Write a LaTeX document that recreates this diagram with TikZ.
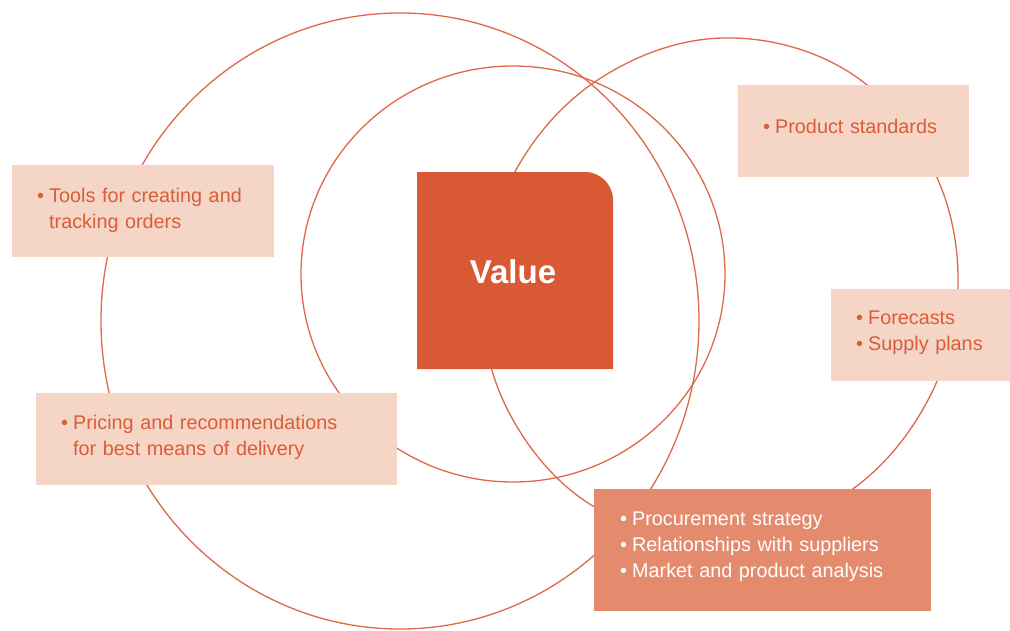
\documentclass[tikz,border=0pt]{standalone}
\usepackage{fontspec}
\setmainfont{Liberation Sans}
\definecolor{vorange}{RGB}{216,89,52}
\definecolor{lineor}{RGB}{224,104,74}
\definecolor{peach}{RGB}{245,214,198}
\definecolor{salmon}{RGB}{228,139,110}
\definecolor{txtor}{RGB}{219,92,56}
\newcommand{\bl}{\makebox[12pt][l]{\textbullet}}
\newcommand{\ind}{\hspace*{12pt}}
\begin{document}
\begin{tikzpicture}[x=1pt,y=-1pt,
  ring/.style={draw=lineor, line width=1.3pt},
  boxbase/.style={rectangle, draw=none, anchor=north west, inner sep=0pt},
  lightbox/.style={boxbase, fill=peach},
  darkbox/.style={boxbase, fill=salmon},
  btxt/.style={anchor=base west, inner sep=0pt, text width=420pt, align=left,
    font=\fontsize{19.8}{26}\selectfont},
  lighttxt/.style={btxt, text=txtor},
  darktxt/.style={btxt, text=white}]
\useasboundingbox[fill=white] (0,0) rectangle (1010,630);
% rings
\draw[ring] (400,321) ellipse [x radius=299pt, y radius=308pt];
\draw[ring] (513,274) ellipse [x radius=212pt, y radius=208pt];
\draw[ring] plot[smooth cycle, tension=0.63] coordinates {(958,285) (930.7,164.5) (846,70.2) (722,38) (602,77.2) (517.6,167) (482,285) (507.2,409) (594,506.7) (722,537) (843.5,495.4) (926.4,403)};
% value box
\fill[vorange] (417,369) -- (417,172) -- (585,172) arc[start angle=90, end angle=0, radius=28pt] -- (613,369) -- cycle;
\node[anchor=base, inner sep=0pt, text=white, font=\fontsize{33}{36}\selectfont\bfseries] (value) at (513,283) {Value};
% boxes
\node[lightbox, minimum width=262pt, minimum height=92pt] (tools) at (12,165) {};
\node[lighttxt] (toolsT) at (37,202) {\bl Tools for creating and\\\ind tracking orders};
\node[lightbox, minimum width=361pt, minimum height=92pt] (pricing) at (36,393) {};
\node[lighttxt] (pricingT) at (61,429) {\bl Pricing and recommendations\\\ind for best means of delivery};
\node[lightbox, minimum width=231pt, minimum height=92pt] (product) at (738,85) {};
\node[lighttxt] (productT) at (763,133) {\bl Product standards};
\node[lightbox, minimum width=179pt, minimum height=92pt] (forecast) at (831,289) {};
\node[lighttxt] (forecastT) at (856,324) {\bl Forecasts\\\bl Supply plans};
\node[darkbox, minimum width=337pt, minimum height=122pt] (procure) at (594,489) {};
\node[darktxt] (procureT) at (620,525) {\bl Procurement strategy\\\bl Relationships with suppliers\\\bl Market and product analysis};
\end{tikzpicture}
\end{document}
